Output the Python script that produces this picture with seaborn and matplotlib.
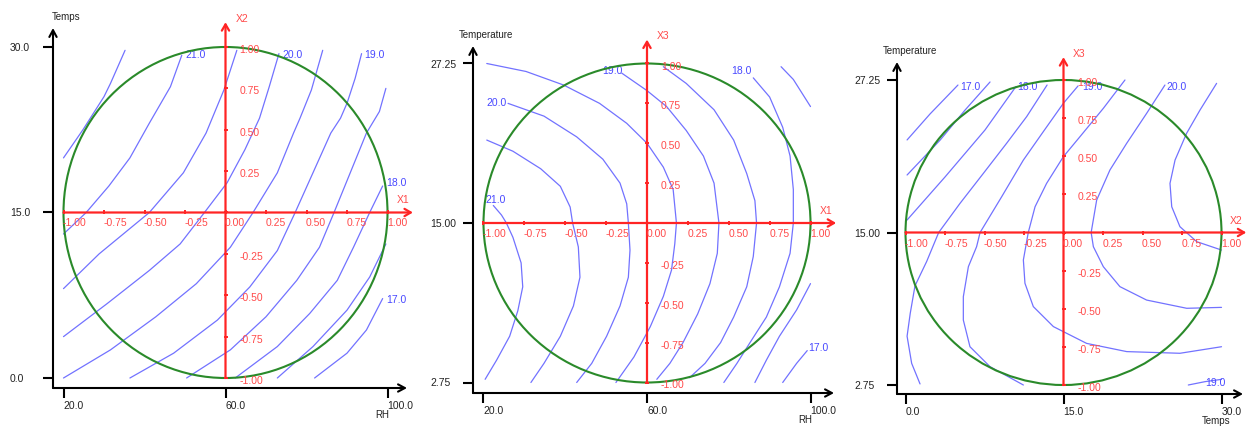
import matplotlib
matplotlib.use("Agg")
import matplotlib.pyplot as plt
import matplotlib.patches as mpatches
import seaborn as sns
import pandas as pd

# red coded axes (-1 .. 1)
RED_TICKS = [-1.0, -0.75, -0.5, -0.25, 0.0, 0.25, 0.5, 0.75, 1.0]
RED_LABELS = ["-1.00", "-0.75", "-0.50", "-0.25", "0.00", "0.25", "0.50", "0.75", "1.00"]
OUTER_TICKS = [-1.0, 0.0, 1.0]

# ---- panel 1 : RH (X1) x Temps (X2)
P1_XTICKS = ["20.0", "60.0", "100.0"]
P1_YTICKS = ["0.0", "15.0", "30.0"]
P1_NAMES = ["RH", "Temps", "X1", "X2"]
P1_CURVES_X = [
    [-1.00, -0.88, -0.75, -0.71, -0.62],
    [-1.00, -0.86, -0.72, -0.59, -0.47, -0.34, -0.27],
    [-1.00, -0.78, -0.47, -0.26, -0.12, -0.01, 0.07],
    [-1.00, -0.73, -0.47, -0.28, -0.13, 0.01, 0.12, 0.21, 0.27, 0.33],
    [-1.00, -0.71, -0.43, -0.18, 0.03, 0.17, 0.32, 0.42, 0.46, 0.53, 0.60],
    [-0.59, -0.32, -0.05, 0.15, 0.32, 0.43, 0.54, 0.65, 0.71, 0.75, 0.80, 0.84],
    [-0.24, 0.03, 0.25, 0.44, 0.58, 0.67, 0.77, 0.87, 0.95, 0.99],
    [0.06, 0.32, 0.52, 0.69, 0.79, 0.89, 0.97],
    [0.32, 0.54, 0.75, 0.89, 0.99],
    [0.55, 0.75, 0.87, 0.97],
]
P1_CURVES_Y = [
    [0.33, 0.50, 0.70, 0.78, 0.98],
    [-0.13, 0.00, 0.16, 0.33, 0.54, 0.76, 0.95],
    [-0.46, -0.25, 0.00, 0.24, 0.48, 0.74, 0.98],
    [-0.75, -0.55, -0.35, -0.19, 0.00, 0.18, 0.38, 0.57, 0.76, 0.96],
    [-1.00, -0.83, -0.63, -0.43, -0.21, 0.00, 0.24, 0.48, 0.57, 0.74, 0.98],
    [-1.00, -0.85, -0.65, -0.45, -0.23, 0.00, 0.24, 0.48, 0.57, 0.66, 0.81, 0.96],
    [-1.00, -0.83, -0.63, -0.41, -0.21, 0.00, 0.24, 0.48, 0.61, 0.75],
    [-1.00, -0.81, -0.61, -0.41, -0.21, 0.00, 0.16],
    [-1.00, -0.81, -0.59, -0.39, -0.19],
    [-1.00, -0.85, -0.71, -0.52],
]
P1_LABELS = ["21.0", "20.0", "19.0", "18.0", "17.0"]
P1_LABEL_X = [-0.25, 0.35, 0.855, 0.995, 0.995]
P1_LABEL_Y = [0.95, 0.95, 0.95, 0.18, -0.53]

# ---- panel 2 : RH (X1) x Temperature (X3)
P2_XTICKS = ["20.0", "60.0", "100.0"]
P2_YTICKS = ["2.75", "15.00", "27.25"]
P2_NAMES = ["RH", "Temperature", "X1", "X3"]
P2_CURVES_X = [
    [-0.94, -0.89, -0.86, -0.82, -0.77, -0.76, -0.79, -0.84, -0.92, -0.99],
    [-0.98, -0.82, -0.65, -0.53, -0.47, -0.455, -0.42, -0.41, -0.45, -0.53, -0.63, -0.71],
    [-0.85, -0.63, -0.43, -0.27, -0.165, -0.124, -0.114, -0.104, -0.114, -0.165, -0.247, -0.338, -0.43],
    [-0.98, -0.74, -0.51, -0.29, -0.124, 0.0, 0.10, 0.16, 0.18, 0.17, 0.15, 0.10, 0.02, -0.08, -0.19],
    [-0.155, 0.0, 0.12, 0.24, 0.345, 0.41, 0.44, 0.43, 0.385, 0.31, 0.22, 0.14, 0.06],
    [0.10, 0.24, 0.41, 0.53, 0.61, 0.66, 0.67, 0.65, 0.61, 0.53, 0.45, 0.355, 0.26],
    [0.65, 0.75, 0.83, 0.875, 0.895, 0.895, 0.875, 0.81, 0.73, 0.63, 0.55, 0.47],
    [0.82, 0.895, 1.00],
    [1.00, 0.915, 0.81, 0.73, 0.66],
    [0.98, 0.915, 0.83],
]
P2_CURVES_Y = [
    [0.11, 0.05, 0.00, -0.09, -0.25, -0.40, -0.55, -0.71, -0.86, -0.98],
    [0.52, 0.45, 0.34, 0.23, 0.10, 0.00, -0.15, -0.34, -0.52, -0.71, -0.88, -1.00],
    [0.75, 0.67, 0.54, 0.40, 0.25, 0.12, 0.00, -0.17, -0.34, -0.52, -0.71, -0.88, -1.00],
    [1.00, 0.95, 0.865, 0.75, 0.625, 0.50, 0.35, 0.21, 0.00, -0.13, -0.295, -0.46, -0.65, -0.84, -1.00],
    [0.94, 0.83, 0.73, 0.58, 0.42, 0.25, 0.00, -0.19, -0.38, -0.57, -0.75, -0.88, -0.98],
    [0.98, 0.875, 0.71, 0.52, 0.31, 0.14, 0.00, -0.21, -0.40, -0.59, -0.75, -0.88, -0.97],
    [0.91, 0.79, 0.60, 0.42, 0.21, 0.00, -0.19, -0.40, -0.59, -0.75, -0.88, -1.00],
    [0.98, 0.90, 0.73],
    [-0.38, -0.545, -0.71, -0.86, -1.00],
    [-0.80, -0.88, -1.00],
]
P2_LABELS = ["21.0", "20.0", "19.0", "18.0", "17.0"]
P2_LABEL_X = [-0.99, -0.985, -0.277, 0.518, 0.987]
P2_LABEL_Y = [0.145, 0.75, 0.95, 0.95, -0.786]

# ---- panel 3 : Temps (X2) x Temperature (X3)
P3_XTICKS = ["0.0", "15.0", "30.0"]
P3_YTICKS = ["2.75", "15.00", "27.25"]
P3_NAMES = ["Temps", "Temperature", "X2", "X3"]
P3_CURVES_X = [
    [-0.99, -0.845, -0.668],
    [-0.99, -0.78, -0.623, -0.465],
    [-0.99, -0.75, -0.497, -0.301],
    [-0.104, -0.233, -0.36, -0.507, -0.655, -0.79, -0.866, -0.94, -0.97, -0.99, -0.961, -0.908],
    [0.092, -0.001, -0.128, -0.254, -0.391, -0.528, -0.55, -0.602, -0.634, -0.634, -0.592, -0.465, -0.254],
    [0.389, 0.252, 0.104, -0.001, -0.107, -0.18, -0.223, -0.254, -0.244, -0.191, -0.064, 0.146, 0.40, 0.737, 1.0],
    [0.642, 0.526, 0.40, 0.294, 0.21, 0.175, 0.189, 0.252, 0.357, 0.526, 0.78, 1.0],
    [0.969, 0.864, 0.779, 0.706, 0.674, 0.685, 0.737, 0.843, 1.0],
    [0.79, 0.896, 1.0],
]
P3_CURVES_Y = [
    [0.607, 0.777, 0.967],
    [0.377, 0.607, 0.803, 0.987],
    [0.082, 0.364, 0.672, 0.957],
    [0.967, 0.76, 0.585, 0.388, 0.191, 0.0, -0.19, -0.35, -0.53, -0.68, -0.858, -0.993],
    [0.961, 0.847, 0.661, 0.475, 0.235, 0.0, -0.093, -0.224, -0.421, -0.574, -0.749, -0.88, -1.0],
    [1.0, 0.814, 0.628, 0.497, 0.322, 0.169, 0.0, -0.18, -0.333, -0.486, -0.617, -0.727, -0.781, -0.792, -0.749],
    [0.967, 0.781, 0.585, 0.41, 0.213, 0.0, -0.093, -0.224, -0.355, -0.443, -0.497, -0.491],
    [0.978, 0.803, 0.65, 0.475, 0.322, 0.169, 0.038, -0.06, -0.115],
    [-1.0, -0.978, -0.963],
]
P3_LABELS = ["17.0", "18.0", "19.0", "20.0", "19.0"]
P3_LABEL_X = [-0.655, -0.296, 0.12, 0.65, 0.896]
P3_LABEL_Y = [0.955, 0.955, 0.955, 0.955, -0.99]

# layout in pixels: circle centre / radii, outer axis box (left, bottom, right, top)
W, H = 1248, 426
LAYOUT = [
    dict(cx=225.5, cy=212.5, rx=162.0, ry=165.5, L=53, B=388, R=407, T=28),
    dict(cx=647.0, cy=223.0, rx=163.5, ry=159.5, L=473, B=393, R=834, T=46),
    dict(cx=1063.5, cy=232.5, rx=158.0, ry=152.5, L=897, B=394, R=1243, T=62),
]

BLUE = "#7272ff"
BLUE_TXT = "#4848ff"
RED = "#ff2424"
RED_TXT = "#ff4a4a"
GREEN = "#2a8a2a"
PX = 0.72  # points per pixel at dpi 100

sns.set_theme(style="white")
plt.rcParams["font.family"] = ["Liberation Sans", "DejaVu Sans"]
plt.rcParams["font.size"] = 7.5

fig = plt.figure(figsize=(W / 100, H / 100), dpi=100)


def draw_panel(lay, cx_list, cy_list, labels, lab_x, lab_y, xticks, yticks, names):
    ax = fig.add_axes([lay["L"] / W, (H - lay["B"]) / H,
                       (lay["R"] - lay["L"]) / W, (lay["B"] - lay["T"]) / H])
    ax.set_facecolor("white")
    ax.set_xlim((lay["L"] - lay["cx"]) / lay["rx"], (lay["R"] - lay["cx"]) / lay["rx"])
    ax.set_ylim((lay["cy"] - lay["B"]) / lay["ry"], (lay["cy"] - lay["T"]) / lay["ry"])
    for s in ax.spines.values():
        s.set_visible(False)

    # contour lines
    rows = []
    for i, (xs, ys) in enumerate(zip(cx_list, cy_list)):
        for j, (x, y) in enumerate(zip(xs, ys)):
            rows.append({"curve": i, "order": j, "x": x, "y": y})
    df = pd.DataFrame(rows)
    sns.lineplot(data=df, x="x", y="y", units="curve", estimator=None, sort=False,
                 color=BLUE, lw=0.9, ax=ax, zorder=2, solid_joinstyle="round")
    for t, x, y in zip(labels, lab_x, lab_y):
        ax.text(x, y, t, color=BLUE_TXT, fontsize=7.5, ha="left", va="center", zorder=3)

    # green experimental domain
    ax.add_patch(mpatches.Circle((0, 0), 1.0, fill=False, ec=GREEN, lw=1.5, zorder=4))

    # red coded axes
    arrow = dict(arrowstyle="->,head_length=0.6,head_width=0.35", color=RED, lw=1.6,
                 shrinkA=0, shrinkB=0)
    ax.annotate("", xy=(1.157, 0), xytext=(-1.0, 0), arrowprops=arrow,
                annotation_clip=False, zorder=5)
    ax.annotate("", xy=(0, 1.15), xytext=(0, -1.0), arrowprops=arrow,
                annotation_clip=False, zorder=5)
    ax.plot(RED_TICKS, [0] * len(RED_TICKS), ls="none", marker="|", ms=3.5, mew=1.4,
            color=RED, zorder=5, clip_on=False)
    ax.plot([0] * len(RED_TICKS), RED_TICKS, ls="none", marker="_", ms=3.5, mew=1.4,
            color=RED, zorder=5, clip_on=False)
    for v, t in zip(RED_TICKS, RED_LABELS):
        ax.annotate(t, xy=(v, 0), xytext=(-0.5 * PX, -11 * PX), textcoords="offset points",
                    ha="left", va="center", color=RED_TXT, fontsize=7.5, zorder=6,
                    annotation_clip=False)
        if v != 0:
            ax.annotate(t, xy=(0, v), xytext=(14 * PX, -3 * PX), textcoords="offset points",
                        ha="left", va="center", color=RED_TXT, fontsize=7.5, zorder=6,
                        annotation_clip=False)
    ax.text(1.095, 0.078, names[2], color=RED_TXT, fontsize=7.5, ha="center", va="center")
    ax.text(0.10, 1.172, names[3], color=RED_TXT, fontsize=7.5, ha="center", va="center")

    # black outer axes with arrows
    black = dict(arrowstyle="->,head_length=0.65,head_width=0.35", color="black", lw=1.5,
                 shrinkA=0, shrinkB=0)
    ax.annotate("", xy=(1, 0), xytext=(0, 0), xycoords="axes fraction", arrowprops=black)
    ax.annotate("", xy=(0, 1), xytext=(0, 0), xycoords="axes fraction", arrowprops=black)
    ax.set_xticks(OUTER_TICKS)
    ax.set_xticklabels(xticks, ha="left")
    ax.set_yticks(OUTER_TICKS)
    ax.set_yticklabels(yticks, ha="left")
    ax.tick_params(axis="both", direction="out", length=10 * PX, width=1.5, color="black",
                   labelsize=7.5, labelcolor="#222222", bottom=True, left=True)
    ax.tick_params(axis="x", pad=3 * PX)
    ax.tick_params(axis="y", pad=33 * PX)
    ax.set_xlabel("")
    ax.set_ylabel("")
    ax.grid(False)

    ax.annotate(names[1], xy=(0, 1), xycoords="axes fraction", xytext=(13 * PX, 11 * PX),
                textcoords="offset points", ha="center", va="center", fontsize=7,
                color="#222222", annotation_clip=False)
    ax.annotate(names[0], xy=(1, 0), xycoords=("data", "axes fraction"),
                xytext=(-5 * PX, -27 * PX), textcoords="offset points", ha="center",
                va="center", fontsize=7, color="#222222", annotation_clip=False)
    return ax


draw_panel(LAYOUT[0], P1_CURVES_X, P1_CURVES_Y, P1_LABELS, P1_LABEL_X, P1_LABEL_Y,
           P1_XTICKS, P1_YTICKS, P1_NAMES)
draw_panel(LAYOUT[1], P2_CURVES_X, P2_CURVES_Y, P2_LABELS, P2_LABEL_X, P2_LABEL_Y,
           P2_XTICKS, P2_YTICKS, P2_NAMES)
draw_panel(LAYOUT[2], P3_CURVES_X, P3_CURVES_Y, P3_LABELS, P3_LABEL_X, P3_LABEL_Y,
           P3_XTICKS, P3_YTICKS, P3_NAMES)

fig.savefig("out.png", dpi=100)
